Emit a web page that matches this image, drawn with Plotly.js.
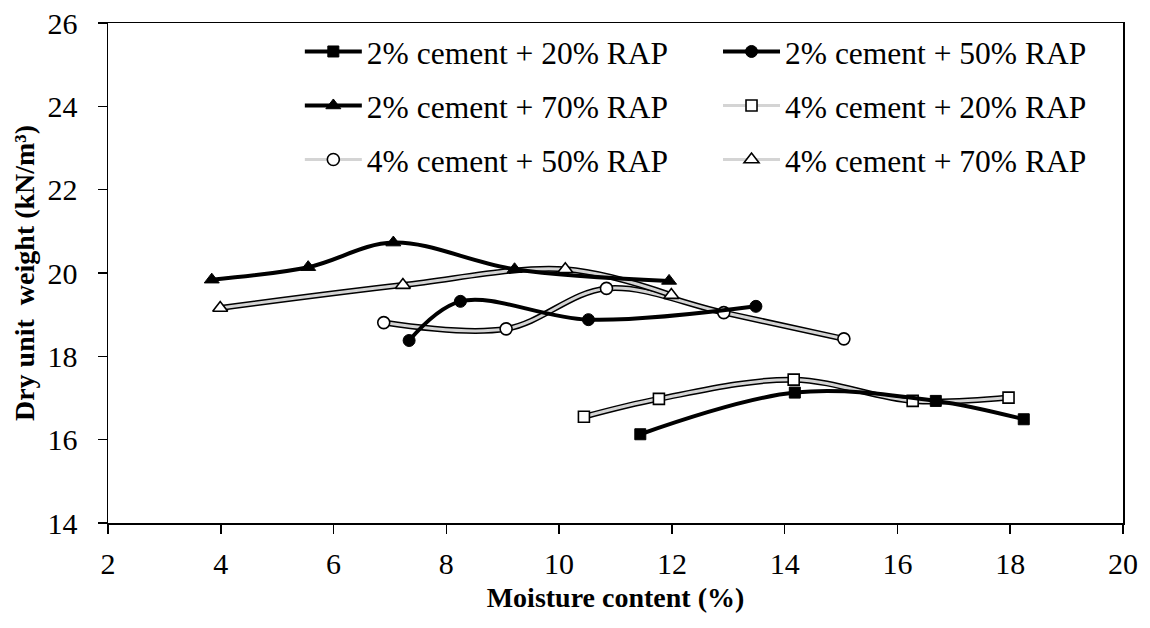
<!DOCTYPE html>
<html>
<head>
<meta charset="utf-8">
<script src="https://cdn.plot.ly/plotly-3.0.1.min.js"></script>
<style>html,body{margin:0;padding:0;background:#fff;}#chart{width:1150px;height:628px;}</style>
</head>
<body>
<div id="chart"></div>
<script>
// Series names
const names = [
  "2% cement + 20% RAP", "2% cement + 50% RAP", "2% cement + 70% RAP",
  "4% cement + 20% RAP", "4% cement + 50% RAP", "4% cement + 70% RAP"
];
// Moisture content (%) and dry unit weight (kN/m3) per series
const x_c2_r20 = [11.44, 14.18, 16.68, 18.24];
const y_c2_r20 = [16.13, 17.13, 16.93, 16.49];
const x_c2_r50 = [7.34, 8.25, 10.52, 13.49];
const y_c2_r50 = [18.38, 19.32, 18.88, 19.20];
const x_c2_r70 = [3.84, 5.55, 7.06, 9.21, 11.95];
const y_c2_r70 = [19.84, 20.14, 20.73, 20.09, 19.81];
const x_c4_r20 = [10.44, 11.77, 14.16, 16.27, 17.97];
const y_c4_r20 = [16.55, 16.98, 17.44, 16.93, 17.01];
const x_c4_r50 = [6.89, 9.06, 10.84, 12.92, 15.05];
const y_c4_r50 = [18.81, 18.66, 19.63, 19.05, 18.42];
const x_c4_r70 = [3.99, 7.23, 10.11, 11.99];
const y_c4_r70 = [19.16, 19.71, 20.09, 19.47];

const xTicks = [2, 4, 6, 8, 10, 12, 14, 16, 18, 20];
const yTicks = [14, 16, 18, 20, 22, 24, 26];

const FONT = "Liberation Serif";

function solid(name, xs, ys, symbol, size, legend) {
  return {
    x: xs, y: ys, name: name, type: "scatter", mode: "lines+markers",
    line: {color: "#000", width: 4, shape: "spline", smoothing: 1},
    marker: {symbol: symbol, size: size, color: "#000", line: {color: "#000", width: 1}},
    legend: legend
  };
}
function dbl(name, xs, ys, symbol, size, legend) {
  return [
    {
      x: xs, y: ys, type: "scatter", mode: "lines", showlegend: false, hoverinfo: "skip",
      line: {color: "#000", width: 6, shape: "spline", smoothing: 1}, legend: legend
    },
    {
      x: xs, y: ys, name: name, type: "scatter", mode: "lines+markers",
      line: {color: "#d4d4d4", width: 3, shape: "spline", smoothing: 1},
      marker: {symbol: symbol, size: size, color: "#fff", line: {color: "#000", width: 1.6}},
      legend: legend
    }
  ];
}

const traces = [].concat(
  dbl(names[3], x_c4_r20, y_c4_r20, "square", 11, "legend4"),
  dbl(names[4], x_c4_r50, y_c4_r50, "circle", 12, "legend5"),
  dbl(names[5], x_c4_r70, y_c4_r70, "triangle-up", 13, "legend6"),
  [
    solid(names[0], x_c2_r20, y_c2_r20, "square", 11, "legend"),
    solid(names[1], x_c2_r50, y_c2_r50, "circle", 12, "legend2"),
    solid(names[2], x_c2_r70, y_c2_r70, "triangle-up", 13, "legend3")
  ]
);

const legBase = {
  orientation: "v", xanchor: "left", yanchor: "middle",
  font: {family: FONT, size: 31.5, color: "#000"},
  bgcolor: "rgba(0,0,0,0)", borderwidth: 0, itemwidth: 57
};
const colX = [0.189, 0.601];
const rowY = [0.943, 0.835, 0.727];

const layout = {
  width: 1150, height: 628,
  margin: {l: 108, r: 27, t: 23, b: 105},
  paper_bgcolor: "#fff", plot_bgcolor: "#fff",
  font: {family: FONT, color: "#000"},
  showlegend: true,
  legend:  Object.assign({}, legBase, {x: colX[0], y: rowY[0]}),
  legend2: Object.assign({}, legBase, {x: colX[1], y: rowY[0]}),
  legend3: Object.assign({}, legBase, {x: colX[0], y: rowY[1]}),
  legend4: Object.assign({}, legBase, {x: colX[1], y: rowY[1]}),
  legend5: Object.assign({}, legBase, {x: colX[0], y: rowY[2]}),
  legend6: Object.assign({}, legBase, {x: colX[1], y: rowY[2]}),
  xaxis: {
    range: [2, 20], tickvals: xTicks, ticktext: xTicks.map(String),
    showgrid: false, zeroline: false,
    showline: true, linecolor: "#000", linewidth: 1.5, mirror: true,
    ticks: "outside", ticklen: 9, tickwidth: 1.5, tickcolor: "#000",
    ticklabelstandoff: 4,
    tickfont: {family: FONT, size: 30, color: "#000"},
    title: {text: "<b>Moisture content (%)</b>", font: {family: FONT, size: 28, color: "#000"}, standoff: 9}
  },
  yaxis: {
    range: [14, 26], tickvals: yTicks, ticktext: yTicks.map(String),
    showgrid: false, zeroline: false,
    showline: true, linecolor: "#000", linewidth: 1.5, mirror: true,
    ticks: "outside", ticklen: 9, tickwidth: 1.5, tickcolor: "#000",
    ticklabelstandoff: 14,
    tickfont: {family: FONT, size: 30, color: "#000"},
    title: {text: "<b>Dry unit\u00a0 weight (kN/m³)</b>", font: {family: FONT, size: 28, color: "#000"}, standoff: 4}
  }
};

Plotly.newPlot("chart", traces, layout, {displayModeBar: false, staticPlot: true});
</script>
</body>
</html>
